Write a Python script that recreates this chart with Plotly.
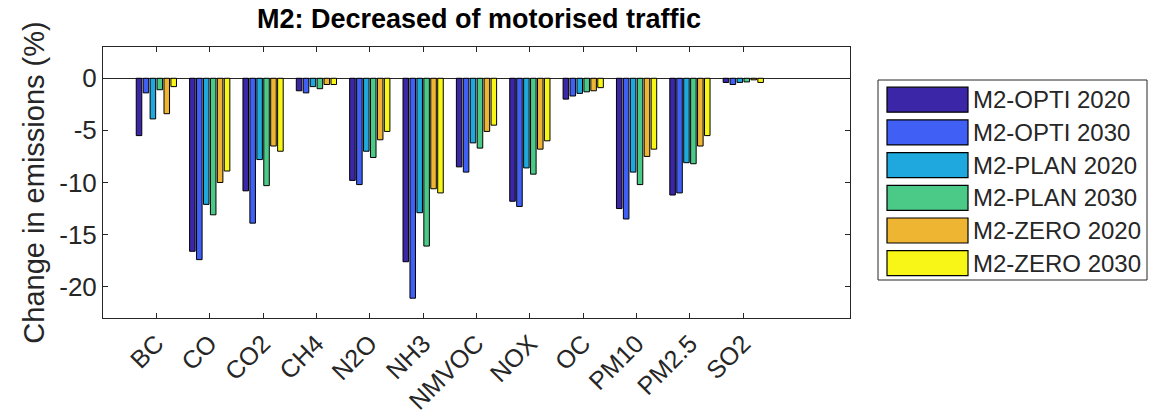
import plotly.graph_objects as go

categories = ["BC", "CO", "CO2", "CH4", "N2O", "NH3", "NMVOC", "NOX", "OC", "PM10", "PM2.5", "SO2"]
series_names = ["M2-OPTI 2020", "M2-OPTI 2030", "M2-PLAN 2020", "M2-PLAN 2030", "M2-ZERO 2020", "M2-ZERO 2030"]

opti_2020 = [-5.5, -16.6, -10.8, -1.2, -9.8, -17.6, -8.5, -11.8, -2.0, -12.5, -11.2, -0.4]
opti_2030 = [-1.4, -17.4, -13.9, -1.4, -10.2, -21.1, -9.0, -12.3, -1.7, -13.5, -11.0, -0.6]
plan_2020 = [-3.9, -12.1, -7.8, -0.8, -7.0, -12.9, -6.2, -8.6, -1.45, -9.0, -8.1, -0.4]
plan_2030 = [-1.1, -13.1, -10.3, -1.0, -7.6, -16.1, -6.7, -9.2, -1.3, -10.2, -8.2, -0.35]
zero_2020 = [-3.4, -10.0, -6.5, -0.6, -5.9, -10.6, -5.1, -6.8, -1.2, -7.5, -6.5, -0.15]
zero_2030 = [-0.8, -8.9, -7.0, -0.6, -5.1, -11.0, -4.5, -6.0, -0.9, -6.8, -5.5, -0.4]

series_values = [opti_2020, opti_2030, plan_2020, plan_2030, zero_2020, zero_2030]
colors = ["#3a26a6", "#3f5ff5", "#1ea8dd", "#4bc987", "#eeb533", "#f8f617"]

y_ticks = [-20, -15, -10, -5, 0]

x_pos = list(range(1, len(categories) + 1))

fig = go.Figure()
for name, vals, col in zip(series_names, series_values, colors):
    fig.add_trace(go.Bar(
        x=x_pos, y=vals, name=name,
        marker=dict(color=col, line=dict(color="#000000", width=1)),
        showlegend=False,
    ))

FONT = "Liberation Sans, Arial, sans-serif"
AX = "#262626"

# plot area in pixels
L, R, T, B = 103, 850, 47, 318
W, H = R - L, B - T

def px_x(px):
    return (px - L) / W

def px_y(py):
    return (B - py) / H

shapes = []
annotations = []
# legend box
shapes.append(dict(type="rect", xref="paper", yref="paper",
                   x0=px_x(878), x1=px_x(1147), y0=px_y(280), y1=px_y(80),
                   line=dict(color=AX, width=1), fillcolor="white"))
row0, pitch = 99.7, 32.7
for i, (name, col) in enumerate(zip(series_names, colors)):
    cy = row0 + pitch * i
    shapes.append(dict(type="rect", xref="paper", yref="paper",
                       x0=px_x(887), x1=px_x(968), y0=px_y(cy + 12.5), y1=px_y(cy - 12.5),
                       line=dict(color="#000000", width=1.2), fillcolor=col))
    annotations.append(dict(xref="paper", yref="paper", x=px_x(971), y=px_y(cy),
                            xanchor="left", yanchor="middle", showarrow=False,
                            text=name, font=dict(family=FONT, size=24, color=AX)))

fig.update_layout(
    width=1150, height=420,
    margin=dict(l=L, r=1150 - R, t=T, b=420 - B, pad=0, autoexpand=False),
    paper_bgcolor="white", plot_bgcolor="white",
    barmode="group", bargap=0.22, bargroupgap=0.2,
    title=dict(text="<b>M2: Decreased of motorised traffic</b>", x=479 / 1150, xanchor="center",
               y=1 - 19 / 420, yanchor="middle",
               font=dict(family=FONT, size=27, color="#000000")),
    font=dict(family=FONT, color=AX),
    shapes=shapes, annotations=annotations,
    showlegend=False,
)
fig.update_xaxes(
    range=[0, 14], tickvals=x_pos, ticktext=categories, tickangle=-45,
    ticks="inside", ticklen=5, tickcolor=AX, mirror="ticks",
    showline=True, linecolor=AX, linewidth=1, showgrid=False, zeroline=False,
    tickfont=dict(family=FONT, size=25, color=AX), automargin=False,
)
fig.update_yaxes(
    range=[-23, 3], tickvals=y_ticks, ticktext=[str(v) for v in y_ticks],
    ticks="inside", ticklen=5, tickcolor=AX, mirror="ticks",
    showline=True, linecolor=AX, linewidth=1, showgrid=False,
    zeroline=True, zerolinecolor=AX, zerolinewidth=1,
    tickfont=dict(family=FONT, size=26, color=AX), automargin=False,
    title=dict(text="Change in emissions (%)", font=dict(family=FONT, size=29, color=AX), standoff=6),
)

fig.write_html("out.html")
